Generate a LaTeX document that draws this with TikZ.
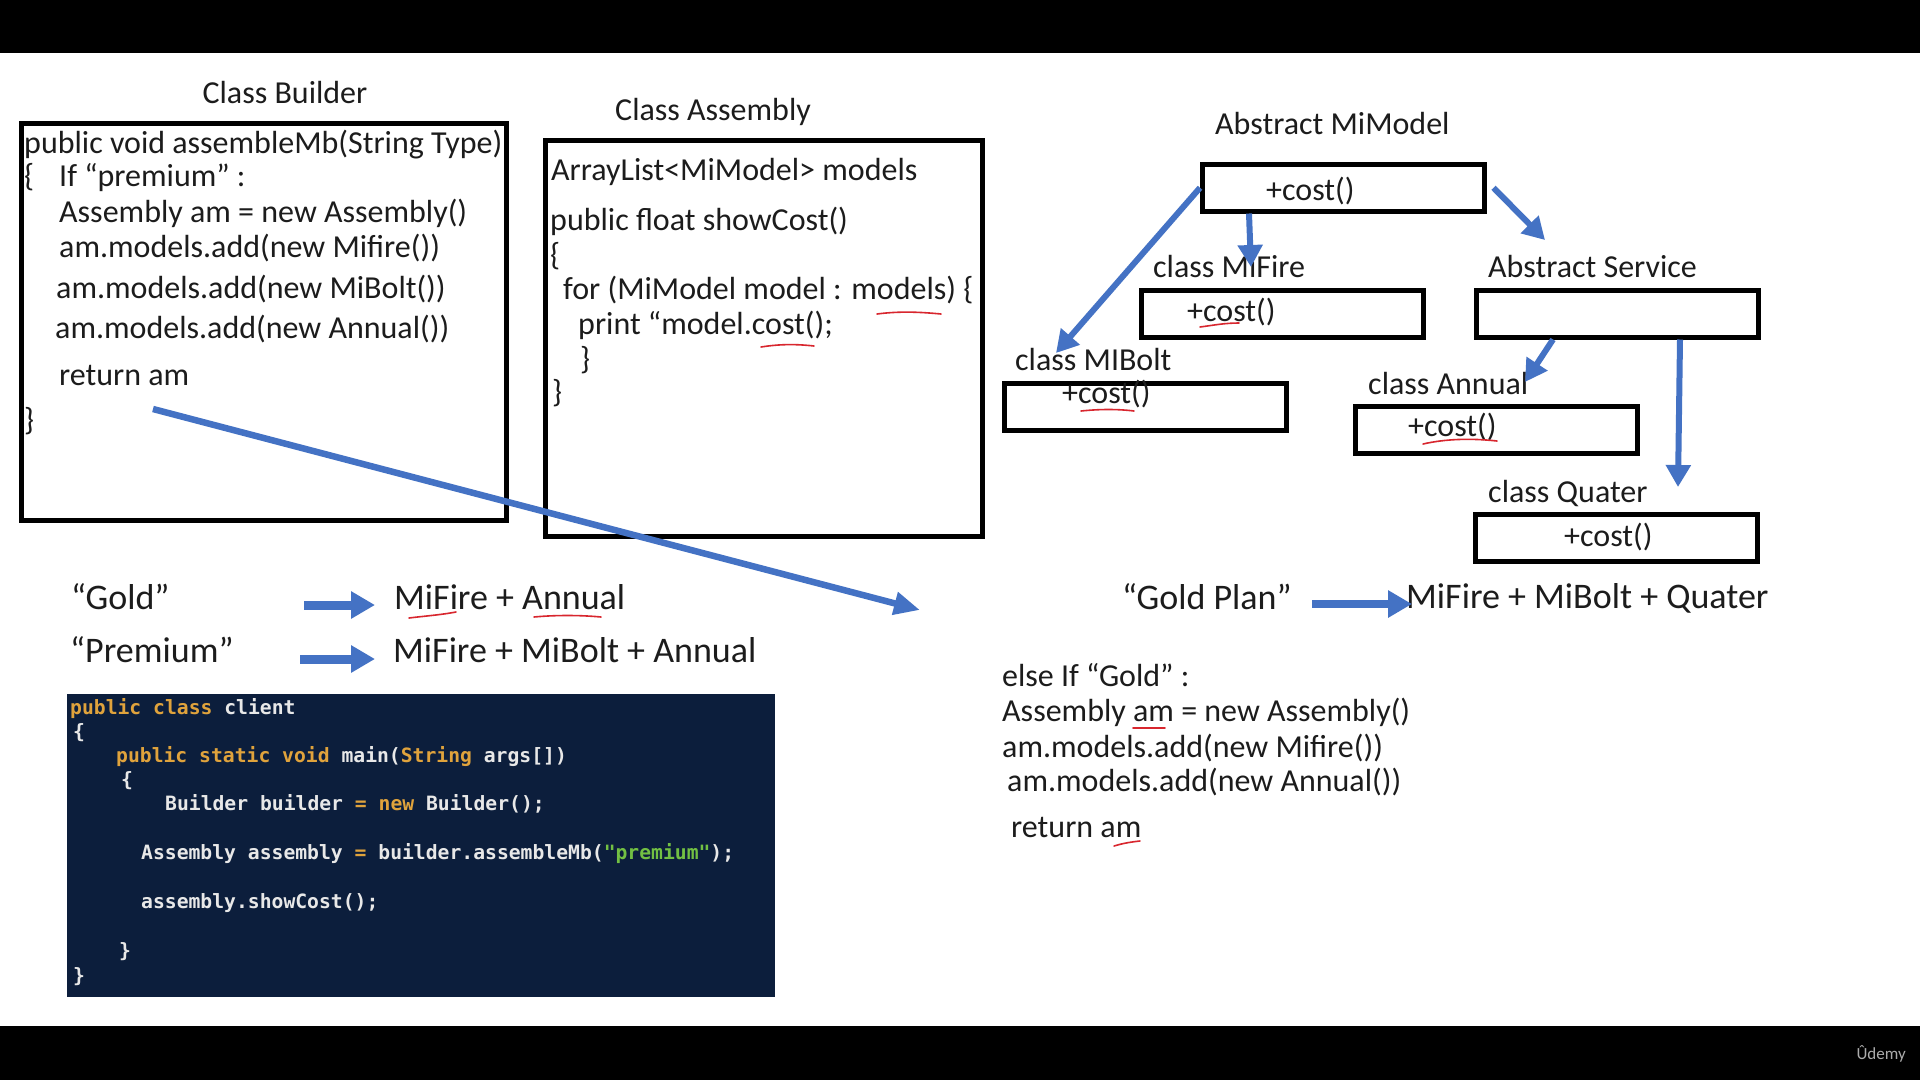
\documentclass[tikz,border=0pt]{standalone}
\usepackage{fontspec}
\setmainfont{Carlito}
\setmonofont[Ligatures=TeXOff]{DejaVu Sans Mono}
\usetikzlibrary{arrows.meta,calc}
\definecolor{arrowblue}{HTML}{4472C4}
\definecolor{codebg}{RGB}{12,30,60}
\definecolor{kw}{HTML}{E0A33C}
\definecolor{str}{HTML}{72C043}
\definecolor{plain}{HTML}{E8E8E8}
\definecolor{spell}{HTML}{D8262E}
\definecolor{ink}{HTML}{1C1C1C}

\begin{document}
\begin{tikzpicture}[x=1pt,y=-1pt,
  txt/.style={anchor=west, inner sep=0pt, text height=20pt, text depth=0pt,
    text=ink, font=\fontsize{32}{38}\selectfont},
  big/.style={anchor=west, inner sep=0pt, text height=23pt, text depth=0pt,
    text=ink, font=\fontsize{36}{42}\selectfont},
  code/.style={anchor=west, inner sep=0pt, text height=14pt, text depth=0pt,
    text=plain, font=\ttfamily\bfseries\fontsize{19.7}{24}\selectfont},
  frame/.style={draw=black, line width=4.5pt, inner sep=0pt, anchor=north west},
  classbox/.style={frame, minimum width=282pt, minimum height=47pt},
  umlarrow/.style={draw=arrowblue, line width=6pt,
    -{Triangle[length=22pt,width=24pt]}},
  longarrow/.style={draw=arrowblue, line width=6.5pt,
    -{Triangle[length=26pt,width=22pt]}},
  blockarrow/.style={draw=arrowblue, line width=9pt,
    -{Triangle[length=24pt,width=26pt]}},
  squiggle/.style={draw=spell, line width=1.6pt, line cap=round},
]
\useasboundingbox (0,0) rectangle (1920,1080);
\fill[white] (0,0) rectangle (1920,1080);
% player bars
\fill[black] (0,0) rectangle (1920,53);
\fill[black] (0,1026) rectangle (1920,1080);
\node[anchor=east, inner sep=0pt, text=gray!65, font=\fontsize{17}{20}\selectfont] (brand) at (1906,1054) {Ûdemy};

% ---------- Builder class ----------
\node[text=ink, font=\fontsize{32}{38}\selectfont, inner sep=0pt] (builderT) at (285,93) {Class Builder};
\node[frame, minimum width=485pt, minimum height=397pt] (builder) at (19,121) {};
\node[txt] (b1) at (24,143) {public void assembleMb(String Type)};
\node[txt] (b2a) at (24,176) {\{};
\node[txt] (b2) at (59,176) {If “premium” :};
\node[txt] (b3) at (59,212) {Assembly am = new Assembly()};
\node[txt] (b4) at (59,247) {am.models.add(new Mifire())};
\node[txt] (b5) at (56,288) {am.models.add(new MiBolt())};
\node[txt] (b6) at (55,328) {am.models.add(new Annual())};
\node[txt] (b7) at (59,375) {return am};
\node[txt] (b8) at (24,420) {\}};

% ---------- Assembly class ----------
\node[txt] (assemblyT) at (615,110) {Class Assembly};
\node[frame, minimum width=437pt, minimum height=396pt] (assembly) at (543,138) {};
\node[txt] (a1) at (551,170) {ArrayList<MiModel> models};
\node[txt] (a2) at (550,220) {public float showCost()};
\node[txt] (a3) at (550,255) {\{};
\node[txt] (a4) at (563,289) {for (MiModel model : models) \{};
\node[txt] (a5) at (578,324) {print “model.cost();};
\node[txt] (a6) at (580,359) {\}};
\node[txt] (a7) at (552,392) {\}};
\draw[squiggle] (877,314) .. controls (900,311) and (920,312) .. (941,314);
\draw[squiggle] (761,347) .. controls (780,344) and (796,344) .. (814,346);

% ---------- class hierarchy ----------
\node[txt] (mimodelT) at (1215,124) {Abstract MiModel};
\node[classbox] (mimodel) at (1200,162) {};
\node[txt] (c0) at (1266,190) {+cost()};

\node[txt] (mifireT) at (1153,267) {class MiFire};
\node[classbox] (mifire) at (1139,288) {};
\node[txt] (c1) at (1187,311) {+cost()};
\draw[squiggle] (1200,327) .. controls (1215,325) and (1225,323) .. (1239,323);

\node[txt] (serviceT) at (1488,267) {Abstract Service};
\node[classbox] (service) at (1474,288) {};

\node[txt] (miboltT) at (1015,360) {class MIBolt};
\node[classbox] (mibolt) at (1002,381) {};
\node[txt] (c2) at (1062,393) {+cost()};
\draw[squiggle] (1081,411) .. controls (1100,409) and (1118,409) .. (1134,411);

\node[txt] (annualT) at (1368,384) {class Annual};
\node[classbox] (annual) at (1353,404) {};
\node[txt] (c3) at (1408,426) {+cost()};
\draw[squiggle] (1423,444) .. controls (1445,439) and (1470,438) .. (1497,441);

\node[txt] (quaterT) at (1488,492) {class Quater};
\node[classbox] (quater) at (1473,512) {};
\node[txt] (c4) at (1564,536) {+cost()};

% inheritance arrows
\coordinate (boltTip) at (1056,353);
\coordinate (fireTip) at (1251,267);
\coordinate (serviceTip) at (1545,240);
\coordinate (annualTip) at (1525,382);
\coordinate (quaterTip) at (1678,487);
\draw[umlarrow] (mimodel.west) -- (boltTip);
\draw[umlarrow] ([xshift=49pt]mimodel.south west) -- (fireTip);
\draw[umlarrow] ([xshift=7pt]mimodel.east) -- (serviceTip);
\draw[umlarrow] ([xshift=79pt]service.south west) -- (annualTip);
\draw[umlarrow] ([xshift=206pt]service.south west) -- (quaterTip);

% ---------- plans ----------
\node[big] (gold) at (71,598) {“Gold”};
\node[big] (goldSet) at (394,598) {MiFire + Annual};
\node[big] (premium) at (70,651) {“Premium”};
\node[big] (premiumSet) at (393,651) {MiFire + MiBolt + Annual};
\coordinate (goldFrom) at (304,605);
\coordinate (goldTo) at (375,605);
\coordinate (premFrom) at (300,659);
\coordinate (premTo) at (375,659);
\draw[blockarrow] (goldFrom) -- (goldTo);
\draw[blockarrow] (premFrom) -- (premTo);
\draw[squiggle] (409,618) .. controls (425,616) and (440,615) .. (456,612);
\draw[squiggle] (534,617) .. controls (555,615) and (580,615) .. (601,617);

\node[big] (goldPlan) at (1122,598) {“Gold Plan”};
\node[big] (goldPlanSet) at (1406,597) {MiFire + MiBolt + Quater};
\coordinate (planFrom) at (1312,604);
\coordinate (planTo) at (1412,604);
\draw[blockarrow, line width=8pt] (planFrom) -- (planTo);

% long arrow from the builder to the alternate branch
\coordinate (retFrom) at (153,409);
\coordinate (branchTip) at (920,610);
\draw[longarrow] (retFrom) -- (branchTip);

% ---------- alternate branch ----------
\node[txt] (g1) at (1002,676) {else If “Gold” :};
\node[txt] (g2) at (1002,711) {Assembly am = new Assembly()};
\node[txt] (g3) at (1002,747) {am.models.add(new Mifire())};
\node[txt] (g4) at (1007,781) {am.models.add(new Annual())};
\node[txt] (g5) at (1011,827) {return am};
\draw[squiggle] (1133,728) -- (1165,728);
\draw[squiggle] (1114,846) .. controls (1124,843) and (1131,842) .. (1140,841);

% ---------- client code ----------
\node[fill=codebg, inner sep=0pt, anchor=north west, minimum width=708pt, minimum height=303pt] (client) at (67,694) {};
\node[code] (k1) at (70,707) {\textcolor{kw}{public class} client};
\node[code] (k2) at (73,731) {\{};
\node[code] (k3) at (116,755) {\textcolor{kw}{public static void} main(\textcolor{kw}{String} args[])};
\node[code] (k4) at (121,779) {\{};
\node[code] (k5) at (165,803) {Builder builder \textcolor{kw}{= new} Builder();};
\node[code] (k6) at (141,852) {Assembly assembly \textcolor{kw}{=} builder.assembleMb(\textcolor{str}{"premium"});};
\node[code] (k7) at (141,901) {assembly.showCost();};
\node[code] (k8) at (119,950) {\}};
\node[code] (k9) at (73,975) {\}};
\end{tikzpicture}
\end{document}
